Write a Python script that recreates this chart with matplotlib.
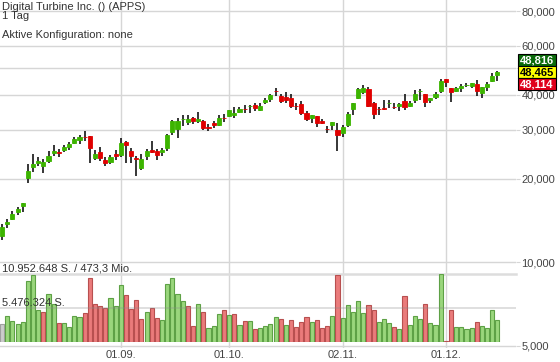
import matplotlib
matplotlib.use("Agg")
import matplotlib.pyplot as plt
from matplotlib.patches import Rectangle
from matplotlib.ticker import FixedLocator, FixedFormatter, NullLocator

plt.rcParams['font.family'] = ['Liberation Sans', 'DejaVu Sans']

# daily candles, values
opens = [12.43, 13.73, 14.31, 15.17, 15.94, 20.16, 22.08, 22.82, 22.26, 23.15,
         24.73, 24.93, 25.41, 26.05, 26.86, 27.61, 28.20, 28.47, 23.79, 24.93,
         23.34, 23.00, 24.58, 24.32, 27.15, 25.14, 23.70, 21.90, 24.18, 25.41,
         25.14, 24.99, 25.83, 29.50, 30.17, 32.70, 32.05, 33.12, 32.23, 32.23,
         30.60, 31.78, 31.19, 33.00, 33.68, 33.79, 34.65, 35.55, 36.35, 36.80,
         35.30, 37.82, 38.68, 41.40, 39.65, 39.23, 38.90, 36.62, 37.01, 34.53,
         33.12, 33.60, 32.23, 30.15, 31.19, 29.92, 29.11, 31.19, 35.51, 39.10,
         41.09, 42.02, 37.32, 35.55, 35.81, 37.28, 36.32, 36.58, 38.04, 36.58,
         38.36, 41.30, 40.31, 38.36, 39.42, 41.33, 45.65, 42.48, 41.33, 42.48,
         43.40, 43.19, 43.80, 40.55, 42.83, 45.00, 47.18]
highs = [13.73, 14.31, 15.28, 15.84, 16.34, 22.58, 24.52, 23.86, 23.53, 25.14,
         26.42, 25.56, 26.42, 27.15, 28.30, 28.77, 29.67, 28.47, 25.35, 25.93,
         23.98, 24.32, 25.35, 27.93, 27.31, 25.70, 24.12, 24.46, 25.49, 27.31,
         25.49, 25.70, 28.94, 32.50, 32.96, 33.88, 33.88, 33.37, 34.81, 32.50,
         31.39, 32.23, 33.88, 34.07, 35.30, 36.28, 36.28, 36.80, 36.80, 37.51,
         37.32, 38.90, 40.21, 42.48, 40.21, 41.09, 40.21, 37.32, 38.04, 34.99,
         33.88, 33.60, 32.69, 30.93, 32.05, 31.78, 31.19, 34.81, 37.51, 42.27,
         43.44, 42.83, 37.82, 36.28, 38.36, 38.36, 37.51, 37.51, 40.31, 38.14,
         41.67, 42.02, 40.31, 39.10, 41.09, 45.55, 45.65, 42.48, 42.83, 43.69,
         44.06, 44.06, 45.25, 42.83, 44.35, 47.84, 48.88]
lows = [12.03, 13.29, 14.20, 14.80, 15.21, 19.29, 21.13, 22.26, 20.99, 22.71,
        24.12, 23.98, 24.99, 25.35, 26.57, 26.58, 27.38, 22.82, 23.34, 23.15,
        22.26, 22.54, 23.34, 23.98, 22.71, 22.71, 20.47, 21.46, 23.34, 24.66,
        23.34, 24.18, 25.20, 28.70, 28.07, 30.93, 31.19, 31.39, 31.62, 29.92,
        29.72, 30.49, 30.93, 31.84, 33.37, 33.12, 34.36, 34.53, 34.53, 35.14,
        35.14, 37.01, 37.63, 39.75, 37.51, 37.32, 35.98, 35.30, 33.88, 32.23,
        31.62, 30.75, 31.39, 29.28, 29.92, 25.20, 28.16, 30.75, 33.88, 38.58,
        40.21, 36.28, 32.69, 33.88, 35.30, 35.98, 35.51, 35.14, 35.30, 36.28,
        37.51, 38.36, 36.28, 37.32, 38.58, 40.55, 42.83, 37.82, 40.88, 40.88,
        42.83, 42.27, 39.75, 39.10, 41.33, 44.35, 45.00]
closes = [13.40, 14.00, 14.92, 15.55, 16.34, 21.30, 22.58, 23.21, 22.96, 24.12,
          25.14, 24.80, 25.98, 26.71, 27.77, 28.23, 28.12, 25.83, 24.52, 23.79,
          22.82, 23.92, 24.18, 26.80, 26.42, 24.18, 23.60, 23.53, 25.14, 24.99,
          24.32, 25.35, 28.70, 32.23, 32.23, 32.80, 32.69, 32.31, 32.77, 30.49,
          30.52, 31.19, 33.12, 32.92, 35.30, 34.53, 35.51, 35.47, 36.43, 35.98,
          36.49, 38.36, 39.98, 41.25, 38.14, 38.36, 36.58, 36.55, 34.36, 32.77,
          33.88, 31.78, 31.62, 30.05, 32.05, 28.70, 30.75, 34.16, 37.51, 42.02,
          42.48, 36.58, 34.07, 35.47, 35.60, 37.36, 36.24, 37.01, 36.11, 37.51,
          40.31, 41.38, 37.82, 39.10, 40.31, 44.90, 44.62, 40.88, 42.48, 43.19,
          43.48, 44.06, 41.33, 42.61, 43.69, 46.91, 48.465]
# volume in million shares
volumes = [2.87, 4.15, 3.40, 2.97, 3.24, 9.74, 10.80, 5.21, 4.84, 7.67,
           6.16, 3.08, 3.08, 2.40, 4.20, 3.99, 4.68, 10.32, 6.16, 5.80,
           5.48, 7.07, 5.80, 9.10, 7.51, 5.37, 6.71, 3.77, 4.84, 5.48,
           3.88, 3.61, 9.26, 10.32, 7.67, 6.55, 5.80, 2.56, 6.07, 4.84,
           2.28, 2.56, 4.57, 5.11, 4.31, 4.47, 2.81, 3.35, 3.40, 2.17,
           2.28, 2.56, 2.97, 4.04, 3.77, 2.71, 3.51, 2.40, 3.24, 4.04,
           3.24, 3.51, 2.28, 2.60, 4.20, 10.80, 3.88, 5.91, 4.84, 6.55,
           4.68, 5.91, 5.11, 3.24, 3.67, 3.08, 2.44, 2.12, 7.39, 2.71,
           4.20, 3.77, 6.12, 3.13, 2.76, 10.952648, 0.15, 5.11, 2.40, 2.40,
           2.08, 2.28, 3.24, 2.60, 2.28, 5.11, 3.56]

date_pos = [23, 44, 66, 86]
date_labels = ["01.09.", "01.10.", "02.11.", "01.12."]
price_ticks = [5, 10, 20, 30, 40, 50, 60, 80]
price_labels = ["5,000", "10,000", "20,000", "30,000", "40,000", "", "60,000", "80,000"]
vol_max = 10.952648
vol_max_label = "10.952.648 S. / 473,3 Mio."
vol_half_label = "5.476.324 S."
quote_labels = ["48,816", "48,465", "48,114"]

W, H = 560, 362
UP, DOWN = '#3cb400', '#e00000'
GRID = '#d6d6d6'

fig = plt.figure(figsize=(W / 100, H / 100), dpi=100)
ax = fig.add_axes([0, 1 - 348 / H, 516 / W, 348 / H])
ax.set_yscale('log')
ax.set_xlim(-0.41, 99.6)
ax.set_ylim(4.917, 87.8)

for i in range(len(closes)):
    col = UP if closes[i] >= opens[i] else DOWN
    ax.vlines(i, lows[i], highs[i], color='black', lw=1.1, zorder=2)
    lo, hi = min(opens[i], closes[i]), max(opens[i], closes[i])
    ax.bar(i, hi - lo, bottom=lo, width=0.8, color=col, edgecolor=col, lw=0.6, zorder=3)

ax.yaxis.set_major_locator(FixedLocator(price_ticks))
ax.yaxis.set_major_formatter(FixedFormatter(price_labels))
ax.yaxis.set_minor_locator(NullLocator())
ax.yaxis.tick_right()
ax.set_xticks(date_pos)
ax.set_xticklabels(date_labels)
ax.tick_params(axis='y', length=3, color=GRID, pad=1, labelsize=8, labelcolor='#444444')
ax.tick_params(axis='x', length=0, pad=1.5, labelsize=8, labelcolor='#444444')
ax.grid(True, color=GRID, lw=1.0)
ax.set_axisbelow(True)
for s in ax.spines.values():
    s.set_visible(False)

# volume panel
axv = fig.add_axes([0, (H - 342.3) / H, 516 / W, 68.6 / H])
axv.set_xlim(ax.get_xlim())
axv.set_ylim(0, vol_max)
axv.patch.set_alpha(0)
axv.axis('off')
for i, v in enumerate(volumes):
    if i == 0:
        fc, ec = '#cccccc', '#a0a0a0'
    elif closes[i] >= closes[i - 1]:
        fc, ec = '#9ad67c', '#5ea146'
    else:
        fc, ec = '#ea7b7b', '#b85050'
    axv.bar(i, v, width=0.8, color=fc, edgecolor=ec, lw=0.8, zorder=2)
axv.axhline(vol_max, color='#dddddd', lw=1.8, zorder=1, clip_on=False)
axv.axhline(vol_max / 2, color=(0.55, 0.55, 0.55, 0.3), lw=1.3, zorder=3)

fig.text(2 / W, 1 - 271.3 / H, vol_max_label, fontsize=8, color='#333333', va='baseline')
fig.text(2 / W, 1 - 306 / H, vol_half_label, fontsize=8, color='#333333', va='baseline')

# header
fig.text(2 / W, 1 - 10.3 / H, "Digital Turbine Inc. () (APPS)", fontsize=8, color='#333333', va='baseline')
fig.text(2 / W, 1 - 19.3 / H, "1 Tag", fontsize=8, color='#333333', va='baseline')
fig.text(2 / W, 1 - 38.3 / H, "Aktive Konfiguration: none", fontsize=8, color='#333333', va='baseline')

# quote boxes
boxes = [(54.3, '#0b6b0b', 'white'), (66.2, '#ffff00', 'black'), (78.1, '#e0001b', 'white')]
for (top, fc, tc), lab in zip(boxes, quote_labels):
    fig.add_artist(Rectangle((518 / W, 1 - (top + 11.9) / H), 38 / W, 11.9 / H,
                             transform=fig.transFigure, fc=fc, ec='black', lw=0.8))
    fig.text(537 / W, 1 - (top + 6) / H, lab, fontsize=8, fontweight='bold', color=tc,
             ha='center', va='center')

fig.savefig("out.png", dpi=100)
